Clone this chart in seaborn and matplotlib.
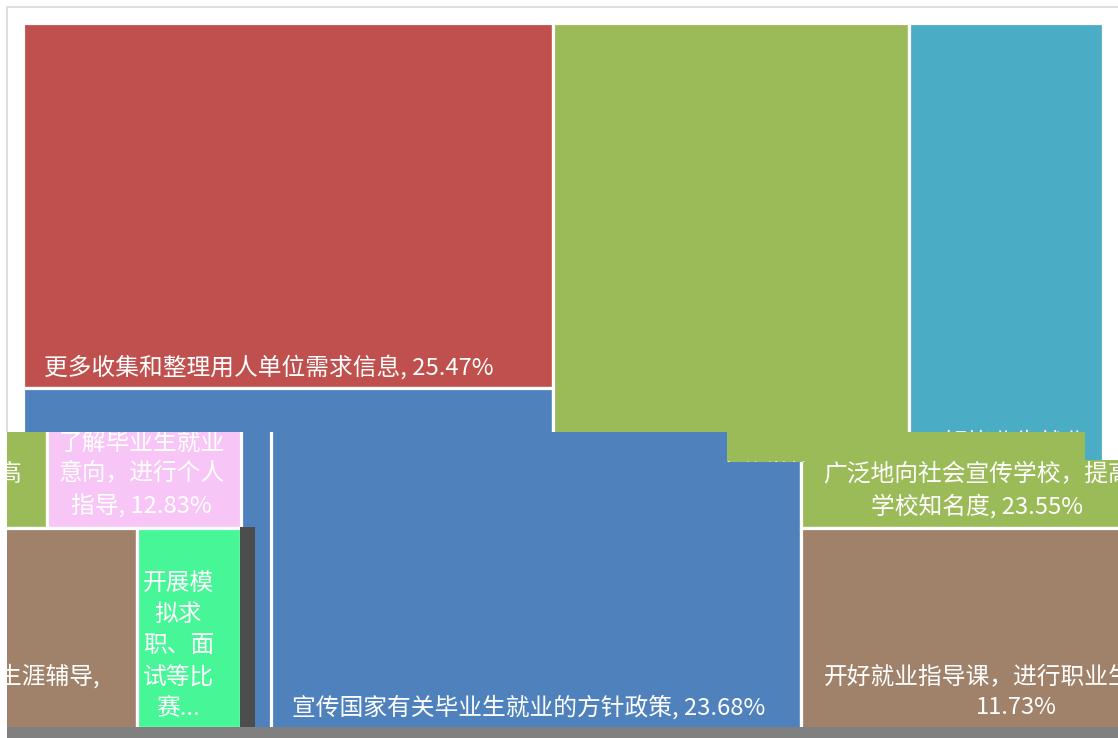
import numpy as np
import pandas as pd
import seaborn as sns
import matplotlib
matplotlib.use("Agg")
import matplotlib.pyplot as plt
from matplotlib.patches import Rectangle
from matplotlib.font_manager import FontProperties
from matplotlib.transforms import Bbox

# ---------------- data ----------------
categories = [
    "更多收集和整理用人单位需求信息",
    "宣传国家有关毕业生就业的方针政策",
    "广泛地向社会宣传学校，提高学校知名度",
    "了解毕业生就业意向，进行个人指导",
    "开好就业指导课，进行职业生涯辅导",
    "开展模拟求职、面试等比赛",
]
shares = [25.47, 23.68, 23.55, 12.83, 11.73, 2.74]
colors = ["#C0504D", "#4F81BD", "#9BBB59", "#4BACC6", "#A0826A", "#47F797"]
# colours of the displaced (glitched) lower copy of the chart
glitch_colors = ["#C0504D", "#4F81BD", "#9BBB59", "#F8C6F6", "#A0826A", "#47F797"]

sns.set_theme(style="white")
FAMILY = ["Noto Sans CJK SC", "DejaVu Sans"]
plt.rcParams["font.family"] = FAMILY

W, H = 1118, 738
fig = plt.figure(figsize=(W / 100, H / 100), dpi=100)
ax = fig.add_axes([0, 0, 1, 1])
ax.set_xlim(0, W)
ax.set_ylim(H, 0)
ax.axis("off")
renderer = fig.canvas.get_renderer()

FS = 17.1
fprop = FontProperties(family=FAMILY, size=FS)


def squarify(vals, x, y, w, h, ratio=(1 + 5 ** 0.5) / 2):
    total = float(sum(vals))
    areas = [v / total * w * h for v in vals]
    rects = [None] * len(vals)
    rest = list(range(len(vals)))

    def worst(row, side):
        a = sum(areas[i] for i in row)
        sq = a * a
        f = side * side * ratio
        return max(f * max(areas[i] for i in row) / sq,
                   sq / (f * min(areas[i] for i in row)))

    while rest:
        side = min(w, h)
        row, best = [], np.inf
        while rest:
            cand = row + [rest[0]]
            s = worst(cand, side)
            if s <= best:
                row, best = cand, s
                rest.pop(0)
            else:
                break
        ra = sum(areas[i] for i in row)
        if w >= h:
            cw = ra / h
            cy = y
            for i in row:
                rh = areas[i] / cw
                rects[i] = (x, cy, cw, rh)
                cy += rh
            x += cw
            w -= cw
        else:
            rh = ra / w
            cx = x
            for i in row:
                rw = areas[i] / rh
                rects[i] = (cx, y, rw, rh)
                cx += rw
            y += rh
            h -= rh
    return rects


def text_w(s):
    if not s:
        return 0.0
    return renderer.get_text_width_height_descent(s, fprop, ismath=False)[0]


NO_START = set("、，。,.)）%:：;；")


def tokens(s):
    out = []
    i = 0
    while i < len(s):
        c = s[i]
        if c.isascii() and c not in " ,":
            j = i
            while j < len(s) and s[j].isascii() and s[j] not in " ,":
                j += 1
            out.append(s[i:j])
            i = j
        elif c == " ":
            if out:
                out[-1] += " "
            i += 1
        elif c in NO_START and out:
            out[-1] += c
            i += 1
        else:
            out.append(c)
            i += 1
    return out


def wrap(s, maxw, maxlines):
    lines, cur = [], ""
    for t in tokens(s):
        if cur and text_w((cur + t).rstrip()) > maxw:
            lines.append(cur.rstrip())
            cur = t
        else:
            cur += t
    if cur:
        lines.append(cur.rstrip())
    if len(lines) > maxlines:
        lines = lines[:maxlines]
        lines[-1] = lines[-1].rstrip(",， ") + "..."
    return lines


LINE_PX = 32.0
rects = squarify(shares, 22.5, 22.5, 1080, 706)
labels = [f"{c}, {v:.2f}%" for c, v in zip(categories, shares)]

# regions of the screenshot: intact upper part and displaced lower part
top_pieces = [(0, 0, W, 432), (727, 432, 806, 462), (1085, 432, W, 460)]
low_pieces = [(7, 432, 727, 727), (727, 462, 806, 727), (806, 432, 1085, 727),
              (1085, 460, W, 727)]


def disp_bbox(p):
    x0, y0, x1, y1 = p
    (a, b), (c, d) = ax.transData.transform([[x0, y0], [x1, y1]])
    return Bbox.from_extents(min(a, c), min(b, d), max(a, c), max(b, d))


def draw_layer(shift, cols, pieces):
    for (x, y, w, h), col, lab in zip(rects, cols, labels):
        pad = min(22.0, 0.06 * w)
        maxlines = max(1, int((h - 2 * 22) // (LINE_PX - 1)))
        lines = wrap(lab, w - 2 * pad, maxlines)
        for p in pieces:
            r = Rectangle((x + shift, y), w, h, facecolor=col, edgecolor="white",
                          linewidth=2.3, clip_on=True)
            ax.add_patch(r)
            r.set_clip_box(disp_bbox(p))
        for p in pieces:
            t = ax.text(x + shift + pad, y + h - 9, "\n".join(lines), ha="left",
                        va="bottom", multialignment="center", color="white",
                        fontproperties=fprop, linespacing=1.45, clip_on=True)
            t.set_clip_box(disp_bbox(p))


# outer frame of the chart (upper, intact part)
for p in top_pieces:
    fr = Rectangle((7, 7), W, H, facecolor="white", edgecolor="#D9D9D9",
                   linewidth=1.2, clip_on=True)
    ax.add_patch(fr)
    fr.set_clip_box(disp_bbox(p))

# intact upper part
draw_layer(0, colors, top_pieces)

# displaced lower part of the screenshot (copy shifted right, wrapped around)
for p in low_pieces:
    bg = Rectangle((p[0], p[1]), p[2] - p[0], p[3] - p[1], facecolor="#4F81BD",
                   edgecolor="none")
    ax.add_patch(bg)
for sh in (248, 248 - 1110):
    draw_layer(sh, glitch_colors, low_pieces)
ax.add_patch(Rectangle((240, 527), 15, 200, facecolor="#4D4D4D", edgecolor="none"))
ax.add_patch(Rectangle((7, 727), W, 11, facecolor="#808080", edgecolor="none"))

fig.savefig("out.png", dpi=100)
